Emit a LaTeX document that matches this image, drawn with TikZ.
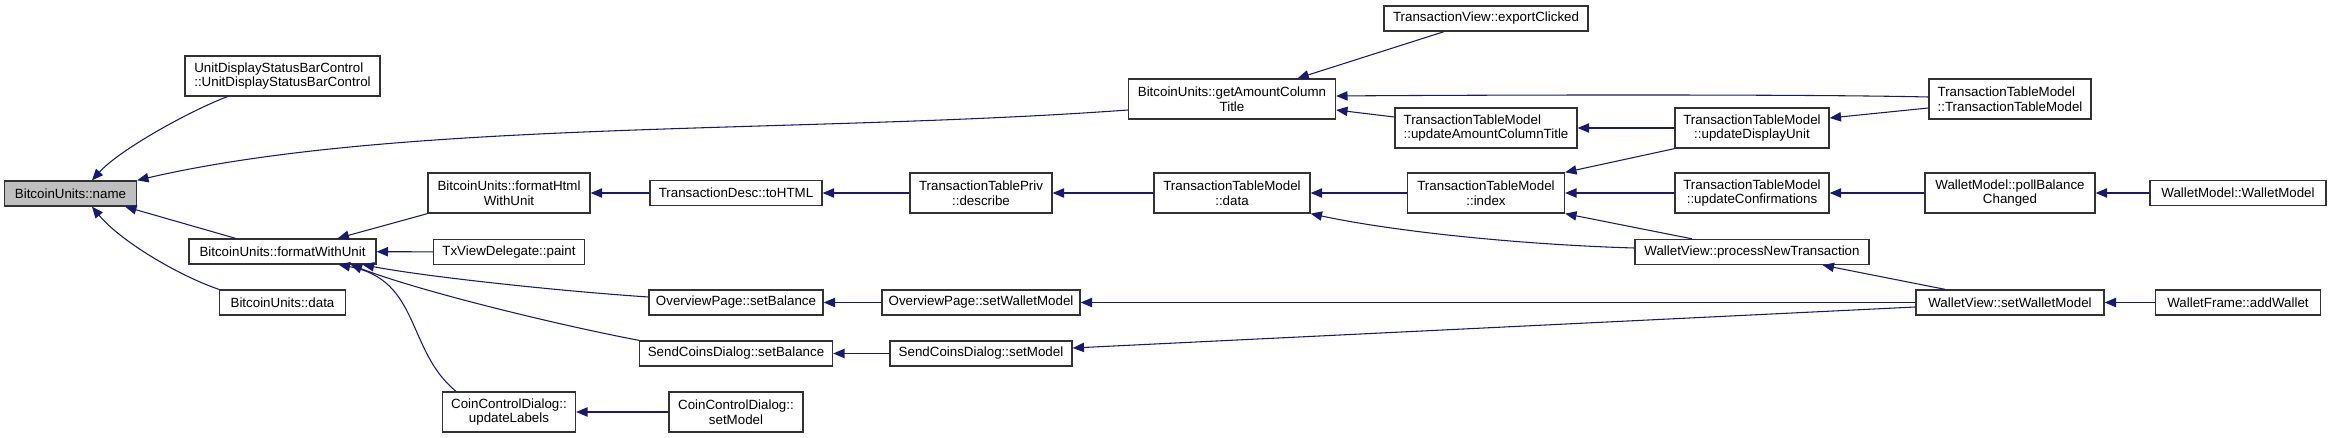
\documentclass[tikz,border=0pt]{standalone}
\usepackage{fontspec}
\setmainfont{Liberation Sans}
\usetikzlibrary{arrows.meta,calc}
\definecolor{edgeblue}{HTML}{191970}

\begin{document}
\begin{tikzpicture}[x=0.75pt,y=-0.75pt,
        fn/.style={draw=black!80, line width=1pt, fill=white, inner xsep=2pt, inner ysep=1pt,
          minimum height=18.75pt, align=center, font=\fontsize{10}{11}\selectfont},
        fn2/.style={fn, minimum height=30pt},
        wd/.style={minimum width=#1*0.75pt},
        call/.style={edgeblue, line width=0.8pt, -{Triangle[length=8.5pt,width=7pt]}}]
        \useasboundingbox (0,0) rectangle (2331,438);

        \node[fn, wd=132, fill=black!25] (name) at (70.5,193.5) {BitcoinUnits::name};

        \node[fn2, wd=195, align=left] (udsbc) at (282.5,76) {UnitDisplayStatusBarControl\\::UnitDisplayStatusBarControl};
        \node[fn, wd=187] (fwu) at (282.5,251.5) {BitcoinUnits::formatWithUnit};
        \node[fn, wd=126] (bdata) at (282.5,302.5) {BitcoinUnits::data};

        \node[fn2, wd=162] (fhtml) at (509,193) {BitcoinUnits::formatHtml\\WithUnit};
        \node[fn, wd=151] (txpaint) at (509,252) {TxViewDelegate::paint};
        \node[fn2, wd=133] (ulabels) at (509,412) {CoinControlDialog::\\updateLabels};

        \node[fn, wd=172] (tohtml) at (736,193) {TransactionDesc::toHTML};
        \node[fn, wd=174] (ovsb) at (736,302.5) {OverviewPage::setBalance};
        \node[fn, wd=193] (scsb) at (736,353.5) {SendCoinsDialog::setBalance};
        \node[fn2, wd=134] (ccsm) at (736,412) {CoinControlDialog::\\setModel};

        \node[fn2, wd=142] (describe) at (981,193) {TransactionTablePriv\\::describe};
        \node[fn, wd=198] (ovswm) at (981,302.5) {OverviewPage::setWalletModel};
        \node[fn, wd=182] (scsm) at (981,353.5) {SendCoinsDialog::setModel};

        \node[fn2, wd=207] (gact) at (1232,99) {BitcoinUnits::getAmountColumn\\Title};
        \node[fn2, wd=156] (tdata) at (1232,193) {TransactionTableModel\\::data};

        \node[fn, wd=204] (expc) at (1486,18.5) {TransactionView::exportClicked};
        \node[fn2, wd=182, align=left] (uact) at (1486,128) {TransactionTableModel\\::updateAmountColumnTitle};
        \node[fn2, wd=157] (tindex) at (1486,193) {TransactionTableModel\\::index};

        \node[fn2, wd=154] (udu) at (1752,128) {TransactionTableModel\\::updateDisplayUnit};
        \node[fn2, wd=154] (uconf) at (1752,193) {TransactionTableModel\\::updateConfirmations};
        \node[fn, wd=234] (pnt) at (1752,252) {WalletView::processNewTransaction};

        \node[fn2, wd=162, align=left] (tctor) at (2010,99) {TransactionTableModel\\::TransactionTableModel};
        \node[fn2, wd=170] (pbc) at (2010,193) {WalletModel::pollBalance\\Changed};
        \node[fn, wd=188] (wvswm) at (2010,302.5) {WalletView::setWalletModel};

        \node[fn, wd=176] (wmctor) at (2238,193) {WalletModel::WalletModel};
        \node[fn, wd=165] (addw) at (2238,302.5) {WalletFrame::addWallet};

        \draw[call] ($(udsbc.south west)+(43,0)$) .. controls +(-37,14) and +(28,-31) .. ($(name.north)+(21.5,0)$);
        \draw[call] ($(gact.west)+(0,11)$) .. controls +(-328,24) and +(263,-61) .. (name.north east);
        \draw[call] ($(fwu.north)+(-47,0)$) -- ($(name.south east)+(-12,0)$);
        \draw[call] (bdata.north west) .. controls +(-41,-14) and +(28,34) .. ($(name.south)+(21.5,0)$);

        \draw[call] (fhtml.south west) -- ($(fwu.north east)+(-39,0)$);
        \draw[call] (txpaint) -- (fwu);
        \draw[call] ($(ovsb.west)+(0,-5.5)$) .. controls +(-90,-6) and +(63,12) .. ($(fwu.south east)+(-14,0)$);
        \draw[call] (scsb.north west) .. controls +(-79,-15) and +(70,27) .. ($(fwu.south east)+(-26,0)$);
        \draw[call] ($(ulabels.north)+(-53,0)$) .. controls +(-50,-41) and +(82,15) .. ($(fwu.south east)+(-38,0)$);

        \draw[call] (tohtml) -- (fhtml);
        \draw[call] (describe) -- (tohtml);
        \draw[call] (tdata) -- (describe);
        \draw[call] (tindex) -- (tdata);
        \draw[call] ($(pnt.west)+(0,-4)$) .. controls +(-105,-3) and +(89,19) .. (tdata.south east);

        \draw[call] (udu.south west) -- (tindex.north east);
        \draw[call] (uconf) -- (tindex);
        \draw[call] ($(pnt.north)+(-60,0)$) -- (tindex.south east);

        \draw[call] ($(expc.south)+(-42,0)$) -- ($(gact.north)+(65.5,0)$);
        \draw[call] ($(tctor.west)+(0,-2)$) .. controls +(-130,-3) and +(130,-1) .. ($(gact.east)+(0,-3)$);
        \draw[call] ($(uact.west)+(0,-11)$) -- ($(gact.east)+(0,11)$);
        \draw[call] (udu) -- (uact);
        \draw[call] ($(tctor.west)+(0,9)$) -- ($(udu.east)+(0,-10)$);

        \draw[call] (pbc) -- (uconf);
        \draw[call] (wmctor) -- (pbc);

        \draw[call] (ovswm) -- (ovsb);
        \draw[call] (scsm) -- (scsb);
        \draw[call] (ccsm) -- (ulabels);
        \draw[call] (wvswm) -- (ovswm);
        \draw[call] ($(wvswm.west)+(0,4.5)$) -- ($(scsm.east)+(0,-5.5)$);
        \draw[call] ($(wvswm.north)+(-65,0)$) -- ($(pnt.south east)+(-47,0)$);
        \draw[call] (addw) -- (wvswm);
\end{tikzpicture}
\end{document}
